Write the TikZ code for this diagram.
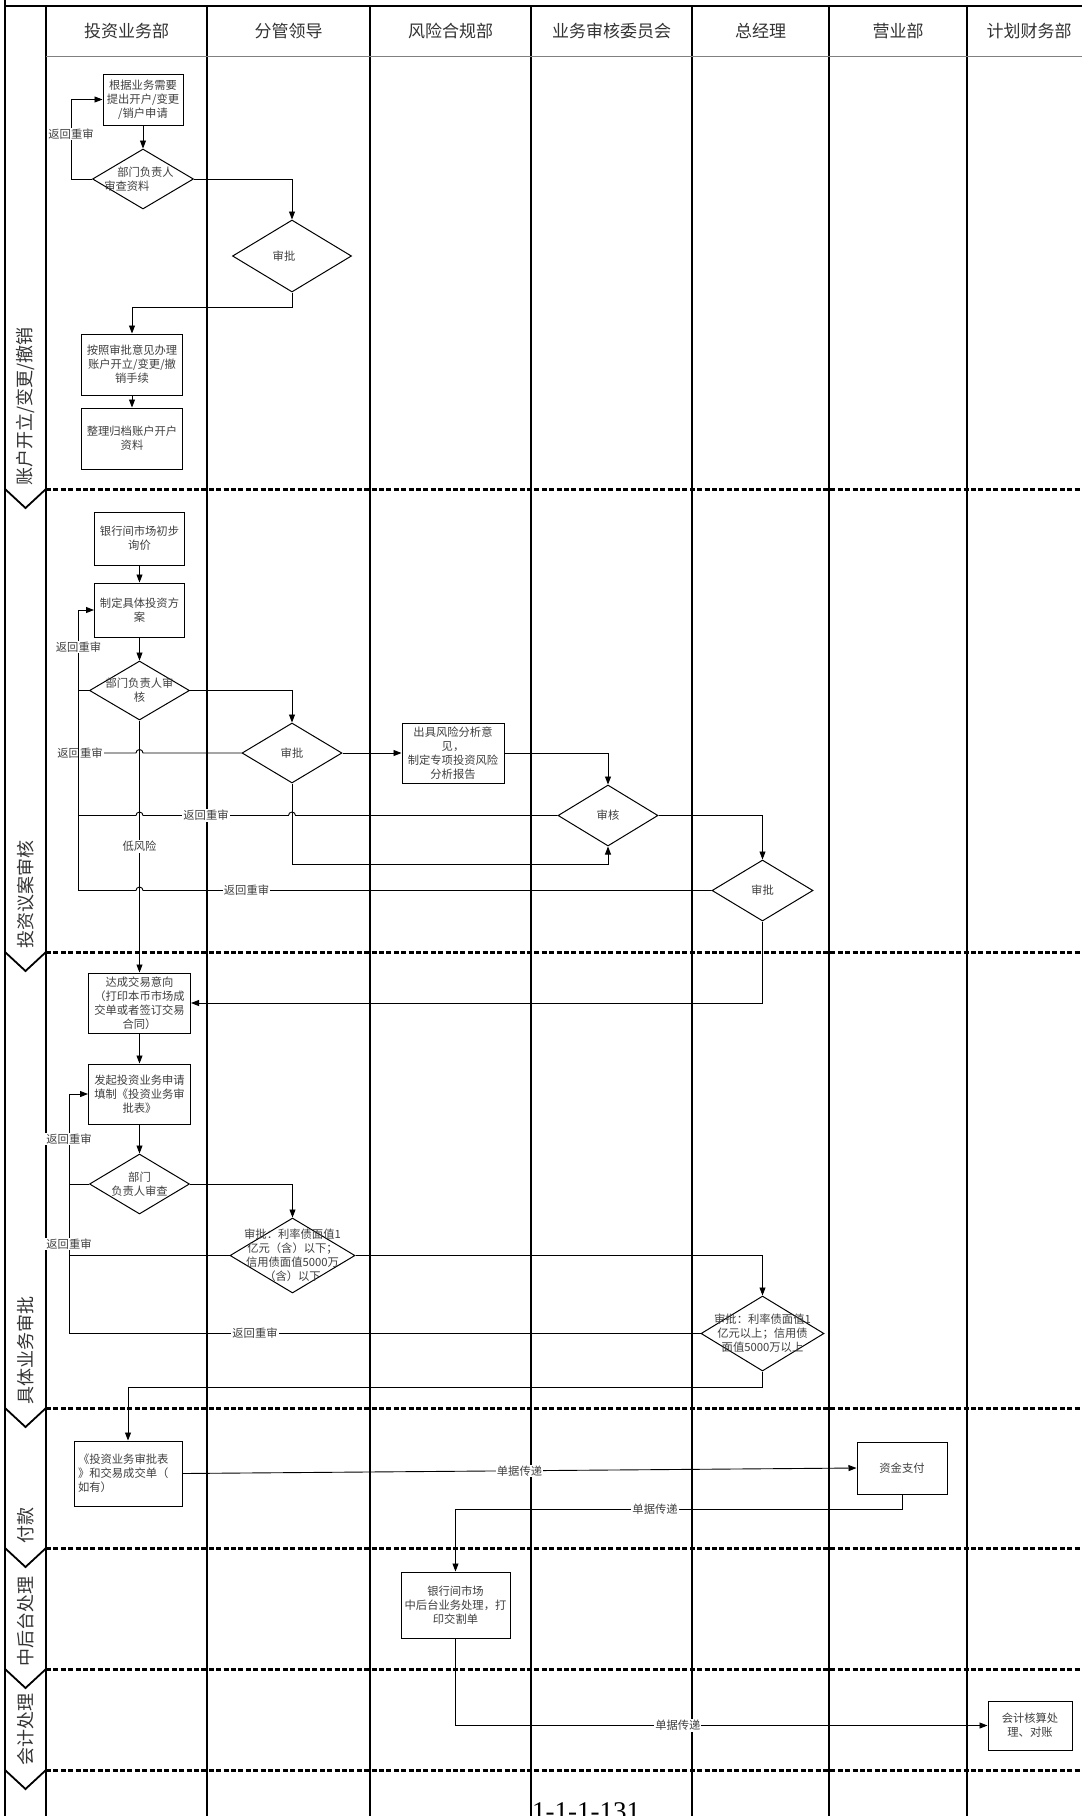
\documentclass[tikz,border=0pt]{standalone}
\usepackage{fontspec}
\setmainfont{Noto Sans CJK SC}
\newfontfamily\numfont{Liberation Serif}
\usetikzlibrary{shapes.geometric,arrows.meta,calc}
\begin{document}
\begin{tikzpicture}[x=1pt,y=-1pt,
  box/.style={draw=black, line width=1pt, rectangle, inner sep=0pt, align=center, text=black!75, font=\fontsize{11.3pt}{14pt}\selectfont},
  dia/.style={draw=black, line width=1pt, diamond, inner sep=0pt},
  txt/.style={inner sep=0pt, align=center, text=black!75, font=\fontsize{11.3pt}{14pt}\selectfont},
  lbl/.style={fill=white, inner sep=1pt, text=black!75, font=\fontsize{11.3pt}{14pt}\selectfont},
  conn/.style={line width=0.9pt, draw=black},
  arr/.style={conn, -{Triangle[length=8pt,width=6pt]}},
  head/.style={text=black!80, inner sep=0pt, font=\fontsize{17pt}{20pt}\selectfont},
  lane/.style={rotate=90, anchor=west, text=black!80, font=\fontsize{18pt}{20pt}\selectfont, inner sep=0pt},
  sepline/.style={line width=3pt, dash pattern=on 5pt off 2.4pt},
  colline/.style={line width=1.3pt},
  chev/.style={line width=1.8pt, line join=miter},
]
\useasboundingbox (0,0) rectangle (1082,1816);
\clip (0,0) rectangle (1082,1816);
\fill[white] (0,0) rectangle (1082,1816);

% frame
\draw[line width=2pt] (5,6) -- (1082,6);
\draw[line width=1.5pt] (5,0) -- (5,1816);
\draw[colline] (46,6) -- (46,1816);
\foreach \x in {207,370,531,692,829,967} \draw[colline] (\x,6) -- (\x,1816);
\draw[line width=1.5pt, black!50] (46,56.5) -- (1082,56.5);
\foreach \s in {489,952,1408,1548,1669,1770} {
  \draw[sepline] (46,\s) -- (1082,\s);
  \draw[chev] (5,\s) -- (25.5,{\s+19}) -- (46,\s);
}

% headers
\node[head] (h1) at (126.5,31) {投资业务部};
\node[head] (h2) at (288.5,31) {分管领导};
\node[head] (h3) at (450.5,31) {风险合规部};
\node[head] (h4) at (611.5,31) {业务审核委员会};
\node[head] (h5) at (760.5,31) {总经理};
\node[head] (h6) at (898,31) {营业部};
\node[head] (h7) at (1029,31) {计划财务部};

% lane labels
\node[lane] (l1) at (25.5,486) {账户开立/变更/撤销};
\node[lane] (l2) at (25.5,949) {投资议案审核};
\node[lane] (l3) at (25.5,1405) {具体业务审批};
\node[lane] (l4) at (25.5,1544) {付款};
\node[lane] (l5) at (25.5,1667) {中后台处理};
\node[lane] (l6) at (25.5,1766) {会计处理};

% ---------- lane 1
\node[box, minimum width=80pt, minimum height=51pt] (A1) at (143,99.5) {根据业务需要\\提出开户/变更\\/销户申请};
\node[dia, minimum width=101pt, minimum height=60pt] (D1) at (143,179) {};
\node[txt, align=left] (D1t) at (139,179) {\hspace{13pt}部门负责人\\审查资料};
\node[dia, minimum width=119pt, minimum height=72pt] (D2) at (292,256) {};
\node[txt] (D2t) at (284,256) {审批};
\node[box, minimum width=101pt, minimum height=61pt] (A2) at (132,364.5) {按照审批意见办理\\账户开立/变更/撤\\销手续};
\node[box, minimum width=101pt, minimum height=61pt] (A3) at (132,438.5) {整理归档账户开户\\资料};

\draw[arr] (A1.south) -- (D1.north);
\draw[arr] (D1.west) -- (71,179) -- node[lbl, pos=0.566] (r1) {返回重审} (71,99.5) -- (A1.west);
\draw[arr] (D1.east) -| (D2.north);
\draw[arr] (D2.south) -- (292,307) -| (A2.north);
\draw[arr] (A2.south) -- (A3.north);

% ---------- lane 2
\node[box, minimum width=90pt, minimum height=53pt] (B1) at (139.5,538.5) {银行间市场初步\\询价};
\node[box, minimum width=90pt, minimum height=54pt] (B2) at (139.5,610) {制定具体投资方\\案};
\node[dia, minimum width=100pt, minimum height=59pt] (D3) at (139.5,690.5) {};
\node[txt] (D3t) at (D3) {部门负责人审\\核};
\node[dia, minimum width=100pt, minimum height=60pt] (D4) at (292,753) {};
\node[txt] (D4t) at (D4) {审批};
\node[box, minimum width=102pt, minimum height=60pt] (R1) at (453,753) {出具风险分析意\\见，\\制定专项投资风险\\分析报告};
\node[dia, minimum width=100pt, minimum height=61pt] (D5) at (608,815.5) {};
\node[txt] (D5t) at (D5) {审核};
\node[dia, minimum width=101pt, minimum height=61pt] (D6) at (762.5,890.5) {};
\node[txt] (D6t) at (D6) {审批};

\draw[arr] (B1.south) -- (B2.north);
\draw[arr] (B2.south) -- (D3.north);
\draw[arr] (D3.west) -- (78.5,690.5) -- node[lbl, pos=0.54] (r2) {返回重审} (78.5,610) -- (B2.west);
\draw[arr] (D3.east) -| (D4.north);
\draw[conn] (D4.west) -- (143,753) arc[start angle=0, end angle=-180, radius=3.5] -- (78.5,753);
\node[lbl] (r3) at (80,753) {返回重审};
\draw[arr] (D4.east) -- (R1.west);
\draw[arr] (R1.east) -| (D5.north);
\draw[conn] (D5.west) -- (295.5,815.5) arc[start angle=0, end angle=-180, radius=3.5] -- (143,815.5) arc[start angle=0, end angle=-180, radius=3.5] -- (78.5,815.5);
\node[lbl] (r4) at (206,815.5) {返回重审};
\draw[arr] (D4.south) -- (292,864) -| (D5.south);
\draw[arr] (D5.east) -| (D6.north);
\draw[conn] (D6.west) -- (143,890.5) arc[start angle=0, end angle=-180, radius=3.5] -- (78.5,890.5) -- (78.5,690.5);
\node[lbl] (r5) at (246.5,890.5) {返回重审};

% ---------- lane 3
\node[box, minimum width=102pt, minimum height=60pt] (C1) at (139.5,1003) {达成交易意向\\（打印本币市场成\\交单或者签订交易\\合同）};
\node[box, minimum width=102pt, minimum height=60pt] (C2) at (139.5,1094) {发起投资业务申请\\填制《投资业务审\\批表》};
\node[dia, minimum width=100pt, minimum height=60pt] (D7) at (139.5,1184) {};
\node[txt] (D7t) at (D7) {部门\\负责人审查};
\node[dia, minimum width=125pt, minimum height=75pt] (D8) at (292.5,1255.5) {};
\node[txt] (D8t) at (D8) {审批：利率债面值1\\亿元（含）以下；\\信用债面值5000万\\（含）以下};
\node[dia, minimum width=123pt, minimum height=75pt] (D9) at (762.5,1333.5) {};
\node[txt] (D9t) at (D9) {审批：利率债面值1\\亿元以上；信用债\\面值5000万以上};

\draw[arr] (D3.south) -- node[lbl] (low) {低风险} (C1.north);
\draw[arr] (D6.south) |- (C1.east);
\draw[arr] (C1.south) -- (C2.north);
\draw[arr] (C2.south) -- (D7.north);
\draw[arr] (D7.west) -- (69,1184) -- (69,1094) -- (C2.west);
\node[lbl] (r6) at (69,1139) {返回重审};
\draw[arr] (D7.east) -| (D8.north);
\draw[conn] (D8.west) -- (69,1255.5) -- (69,1184);
\node[lbl] (r7) at (69,1244) {返回重审};
\draw[arr] (D8.east) -| (D9.north);
\draw[conn] (D9.west) -- (69,1333.5) -- (69,1255.5);
\node[lbl] (r8) at (255,1333.5) {返回重审};

% ---------- lane 4-6
\node[box, minimum width=108pt, minimum height=65pt, text width=100pt, align=left] (P1) at (128,1473.5) {《投资业务审批表\\》和交易成交单（\\如有）};
\node[box, minimum width=90pt, minimum height=52pt] (P2) at (902,1468) {资金支付};
\node[box, minimum width=109pt, minimum height=66pt] (M1) at (455.5,1605) {银行间市场\\中后台业务处理，打\\印交割单};
\node[box, minimum width=84pt, minimum height=49pt] (F1) at (1030,1725.5) {会计核算处\\理、对账};

\draw[arr] (D9.south) -- (762.5,1387) -| (P1.north);
\draw[arr] (P1.east) -- node[lbl] (s1) {单据传递} (P2.west);
\draw[arr] (P2.south) -- (902,1509) -- node[lbl, pos=0.553] (s2) {单据传递} (455.5,1509) -- (M1.north);
\draw[arr] (M1.south) |- node[lbl, pos=0.709] (s3) {单据传递} (F1.west);

% page number
\node[anchor=base west, inner sep=0pt, font=\numfont\fontsize{27pt}{30pt}\selectfont] (pg) at (532,1820) {1-1-1-131};
\end{tikzpicture}
\end{document}
